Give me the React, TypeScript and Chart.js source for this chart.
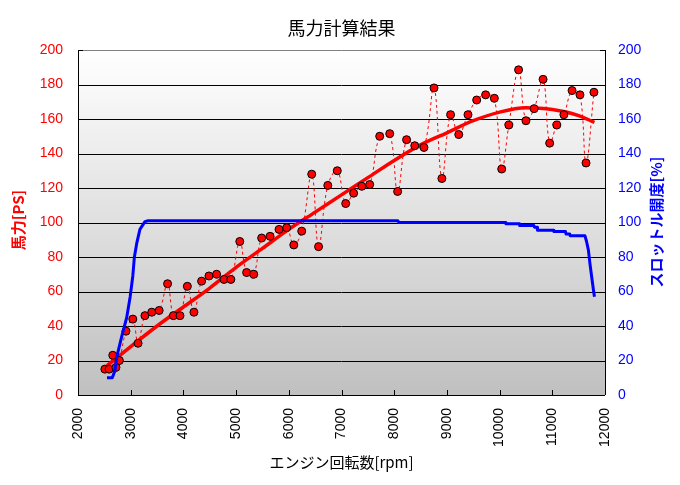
import React, { useEffect, useRef } from "react";
import { Chart, registerables } from "chart.js";

Chart.register(...registerables);

const chartTitle = "馬力計算結果";
const xTitle = "エンジン回転数[rpm]";
const yLeftTitle = "馬力[PS]";
const yRightTitle = "スロットル開度[%]";

const scatterRpm = [2510, 2590, 2660, 2720, 2785, 2910, 3040, 3140, 3270, 3400, 3540, 3700, 3810, 3935, 4075, 4200, 4345, 4485, 4630, 4770, 4900, 5070, 5200, 5335, 5485, 5645, 5815, 5960, 6095, 6245, 6435, 6565, 6740, 6920, 7080, 7230, 7385, 7535, 7725, 7915, 8065, 8235, 8390, 8565, 8755, 8905, 9070, 9225, 9400, 9565, 9735, 9900, 10040, 10175, 10360, 10500, 10655, 10825, 10950, 11085, 11220, 11375, 11525, 11640, 11790];
const scatterPs = [15, 15, 23, 16, 20, 37, 44, 30, 46, 48, 49, 64.5, 46, 46, 63, 48, 66, 69, 70, 67, 67, 89, 71, 70, 91, 92, 96, 97, 87, 95, 128, 86, 121.5, 130, 111, 117, 121, 122, 150, 151.5, 118, 148, 144.5, 143.5, 178, 125.5, 162.5, 151, 162.5, 171, 174, 172, 131, 156.5, 188.5, 159, 166, 183, 146, 156.5, 162.5, 176.5, 174, 134.5, 175.5];

const fitRpm = [2550, 3000, 3500, 4000, 4500, 5000, 5500, 6000, 6500, 7000, 7500, 8000, 8500, 9000, 9500, 10000, 10500, 11000, 11500, 11800];
const fitPs = [17, 28, 40, 51, 62, 74, 85, 96, 106, 116, 126, 136, 145, 152, 159, 164, 166.5, 165.5, 162, 158];

const throttleRpm = [2550, 2650, 2700, 2735, 2830, 2925, 2990, 3040, 3070, 3115, 3175, 3270, 3330, 8070, 8090, 10110, 10120, 10370, 10380, 10650, 10660, 10710, 10720, 11020, 11030, 11250, 11260, 11330, 11340, 11620, 11650, 11685, 11715, 11745, 11780, 11800];
const throttlePct = [10, 10, 14, 22, 34, 45, 57, 69, 80, 88, 96, 100.5, 101, 101, 100, 100, 99.3, 99.3, 98.3, 98.3, 97.3, 97.3, 95.5, 95.5, 94.8, 94.8, 93.3, 93.3, 92.3, 92.3, 89, 84, 76, 69, 61, 57];

const xTicks = [2000, 3000, 4000, 5000, 6000, 7000, 8000, 9000, 10000, 11000, 12000];
const yTicks = [0, 20, 40, 60, 80, 100, 120, 140, 160, 180, 200];

const FONT = "'Liberation Sans', 'DejaVu Sans', sans-serif";
const JFONT = "'Noto Sans CJK JP', sans-serif";

const zip = (xs: number[], ys: number[]) => xs.map((x, i) => ({ x, y: ys[i] }));

const decorPlugin = {
  id: "decor",
  beforeDatasetsDraw(chart: any) {
    const { ctx, chartArea: a } = chart;
    ctx.save();
    const g = ctx.createLinearGradient(0, a.top, 0, a.bottom);
    g.addColorStop(0, "#ffffff");
    g.addColorStop(1, "#c0c0c0");
    ctx.fillStyle = g;
    ctx.fillRect(a.left, a.top, a.right - a.left, a.bottom - a.top);
    const ys = chart.scales.y;
    ctx.lineWidth = 1;
    ctx.strokeStyle = "#000";
    yTicks.forEach((v) => {
      if (v === 0 || v === 200) return;
      const py = Math.round(ys.getPixelForValue(v)) + 0.5;
      ctx.beginPath();
      ctx.moveTo(a.left, py);
      ctx.lineTo(a.right, py);
      ctx.stroke();
    });
    ctx.strokeStyle = "#808080";
    ctx.beginPath();
    ctx.moveTo(a.left, Math.round(a.top) + 0.5);
    ctx.lineTo(a.right, Math.round(a.top) + 0.5);
    ctx.stroke();
    ctx.strokeStyle = "#000";
    ctx.beginPath();
    ctx.moveTo(Math.round(a.left) + 0.5, a.top);
    ctx.lineTo(Math.round(a.left) + 0.5, a.bottom);
    ctx.moveTo(a.left, Math.round(a.bottom) + 0.5);
    ctx.lineTo(a.right, Math.round(a.bottom) + 0.5);
    ctx.moveTo(Math.round(a.right) + 0.5, a.top);
    ctx.lineTo(Math.round(a.right) + 0.5, a.bottom);
    ctx.stroke();
    const xs = chart.scales.x;
    ctx.beginPath();
    xTicks.forEach((v) => {
      const px = Math.round(xs.getPixelForValue(v)) + 0.5;
      ctx.moveTo(px, a.bottom);
      ctx.lineTo(px, a.bottom - 5);
    });
    yTicks.forEach((v) => {
      const py = Math.round(ys.getPixelForValue(v)) + 0.5;
      ctx.moveTo(a.left, py);
      ctx.lineTo(a.left + 5, py);
      ctx.moveTo(a.right, py);
      ctx.lineTo(a.right - 5, py);
    });
    ctx.stroke();
    ctx.restore();
  },
  afterDraw(chart: any) {
    const { ctx, chartArea: a } = chart;
    ctx.save();
    ctx.textAlign = "center";
    ctx.textBaseline = "middle";
    ctx.fillStyle = "#000";
    ctx.font = `18px ${JFONT}`;
    ctx.fillText(chartTitle, (a.left + a.right) / 2, 28);
    ctx.font = `15px ${JFONT}`;
    ctx.fillText(xTitle, (a.left + a.right) / 2, 462);
    ctx.font = `bold 15px ${JFONT}`;
    ctx.fillStyle = "#ff0000";
    ctx.translate(18, 220);
    ctx.rotate(-Math.PI / 2);
    ctx.fillText(yLeftTitle, 0, 0);
    ctx.restore();
    ctx.save();
    ctx.textAlign = "center";
    ctx.textBaseline = "middle";
    ctx.font = `bold 15px ${JFONT}`;
    ctx.fillStyle = "#0000ff";
    ctx.translate(656, 222);
    ctx.rotate(-Math.PI / 2);
    ctx.fillText(yRightTitle, 0, 0);
    ctx.restore();
  },
};

export default function App() {
  const ref = useRef<HTMLCanvasElement | null>(null);
  useEffect(() => {
    if (!ref.current) return;
    const chart = new Chart(ref.current, {
      type: "line",
      data: {
        datasets: [
          {
            label: "throttle",
            data: zip(throttleRpm, throttlePct),
            yAxisID: "y1",
            borderColor: "#0000ff",
            borderWidth: 3,
            borderJoinStyle: "round",
            borderCapStyle: "butt",
            pointRadius: 0,
            tension: 0,
          },
          {
            label: "power",
            data: zip(scatterRpm, scatterPs),
            yAxisID: "y",
            borderColor: "#ff0000",
            borderWidth: 1,
            borderDash: [3, 3],
            tension: 0.4,
            pointRadius: 4,
            pointBackgroundColor: "#ff0000",
            pointBorderColor: "#000000",
            pointBorderWidth: 1,
          },
          {
            label: "fit",
            data: zip(fitRpm, fitPs),
            yAxisID: "y",
            borderColor: "#ff0000",
            borderWidth: 3.5,
            borderJoinStyle: "round",
            pointRadius: 0,
            cubicInterpolationMode: "monotone",
          },
        ],
      },
      options: {
        responsive: false,
        animation: false,
        layout: { padding: { top: 50, left: 0, right: 0, bottom: 0 } },
        plugins: { legend: { display: false }, title: { display: false }, tooltip: { enabled: false } },
        scales: {
          x: {
            type: "linear",
            min: 2000,
            max: 12000,
            afterFit: (s: any) => { s.height = 90; },
            afterBuildTicks: (s: any) => { s.ticks = xTicks.map((v) => ({ value: v })); },
            grid: { display: false, drawTicks: false },
            border: { display: false },
            ticks: {
              color: "#000",
              font: { family: FONT, size: 14 },
              minRotation: 90,
              maxRotation: 90,
              padding: 13,
              autoSkip: false,
              callback: (v: any) => String(v),
            },
          },
          y: {
            position: "left",
            min: 0,
            max: 200,
            afterFit: (s: any) => { s.width = 78; },
            afterBuildTicks: (s: any) => { s.ticks = yTicks.map((v) => ({ value: v })); },
            grid: { display: false, drawTicks: false },
            border: { display: false },
            ticks: { color: "#ff0000", font: { family: FONT, size: 14 }, padding: 15, callback: (v: any) => String(v) },
          },
          y1: {
            position: "right",
            min: 0,
            max: 200,
            afterFit: (s: any) => { s.width = 75; },
            afterBuildTicks: (s: any) => { s.ticks = yTicks.map((v) => ({ value: v })); },
            grid: { display: false, drawTicks: false },
            border: { display: false },
            ticks: { color: "#0000ff", font: { family: FONT, size: 14 }, padding: 13, callback: (v: any) => String(v) },
          },
        },
      },
      plugins: [decorPlugin],
    } as any);
    return () => chart.destroy();
  }, []);
  return (
    <div style={{ position: "absolute", left: 0, top: 0, width: 680, height: 485, background: "#fff" }}>
      <canvas ref={ref} width={680} height={485} style={{ display: "block" }} />
    </div>
  );
}
